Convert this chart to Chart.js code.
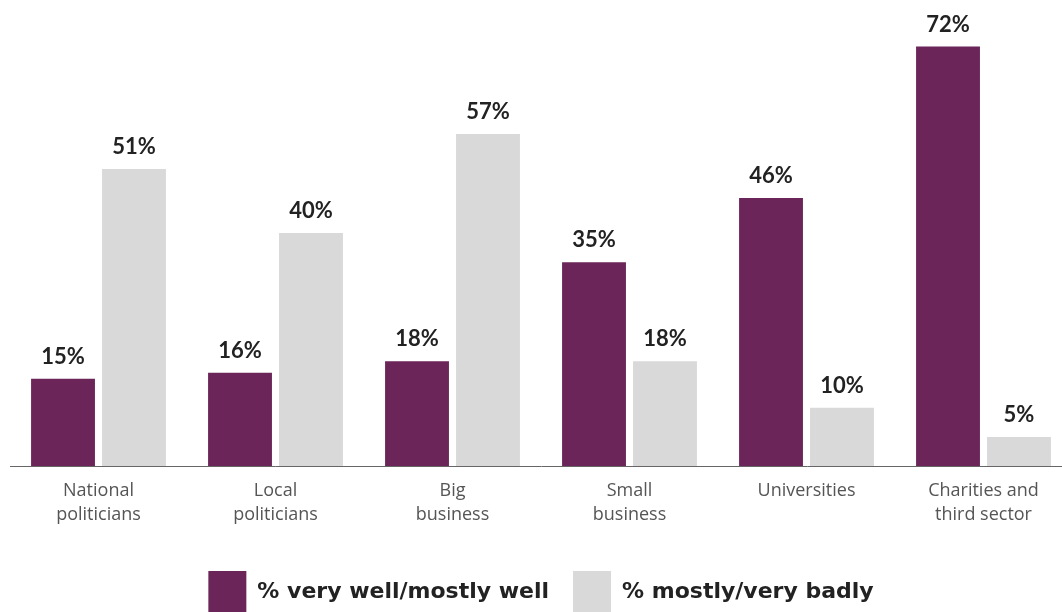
<!DOCTYPE html>
<html>
<head>
<meta charset="utf-8">
<script src="https://cdn.jsdelivr.net/npm/chart.js@4.4.1/dist/chart.umd.min.js"></script>
<style>
html,body{margin:0;padding:0;background:#fff;overflow:hidden;}
#wrap{position:relative;width:1072px;height:612px;}
</style>
</head>
<body>
<div id="wrap"><canvas id="c"></canvas></div>
<script>
const categories = [["National","politicians"],["Local","politicians"],["Big","business"],["Small","business"],["Universities"],["Charities and","third sector"]];
const wellValues = [15, 16, 18, 35, 46, 72];
const badlyValues = [51, 40, 57, 18, 10, 5];
const seriesNames = ["% very well/mostly well", "% mostly/very badly"];

const valueLabels = {
  id: 'valueLabels',
  afterDatasetsDraw(chart) {
    const ctx = chart.ctx;
    ctx.save();
    ctx.font = 'bold 22px Lato';
    ctx.fillStyle = '#222222';
    ctx.textAlign = 'center';
    ctx.textBaseline = 'alphabetic';
    chart.data.datasets.forEach((ds, i) => {
      const meta = chart.getDatasetMeta(i);
      meta.data.forEach((el, j) => {
        ctx.fillText(ds.data[j] + '%', el.x, el.y - 15);
      });
    });
    ctx.restore();
  }
};

new Chart(document.getElementById('c'), {
  type: 'bar',
  data: {
    labels: categories,
    datasets: [
      { label: seriesNames[0], data: wellValues, backgroundColor: '#6B2558', categoryPercentage: 0.802, barPercentage: 0.9 },
      { label: seriesNames[1], data: badlyValues, backgroundColor: '#D9D9D9', categoryPercentage: 0.802, barPercentage: 0.9 }
    ]
  },
  options: {
    responsive: true,
    maintainAspectRatio: false,
    animation: false,
    layout: { padding: { left: 10, right: 0, top: 0, bottom: -11 } },
    plugins: {
      tooltip: { enabled: false },
      legend: {
        position: 'bottom',
        align: 'center',
        labels: {
          boxWidth: 38,
          boxHeight: 42,
          padding: 24,
          color: '#222222',
          font: { family: 'DejaVu Sans', size: 22, weight: 'bold' }
        }
      }
    },
    scales: {
      x: {
        grid: { display: false },
        border: { display: true, color: '#666666', width: 1 },
        ticks: { color: '#555555', font: { family: 'Open Sans', size: 18, lineHeight: 1.34 }, padding: 5, maxRotation: 0, autoSkip: false },
        afterFit(scale) { scale.height = 81; }
      },
      y: { display: false, min: 0, max: 80 }
    }
  },
  plugins: [valueLabels]
});
</script>
</body>
</html>
